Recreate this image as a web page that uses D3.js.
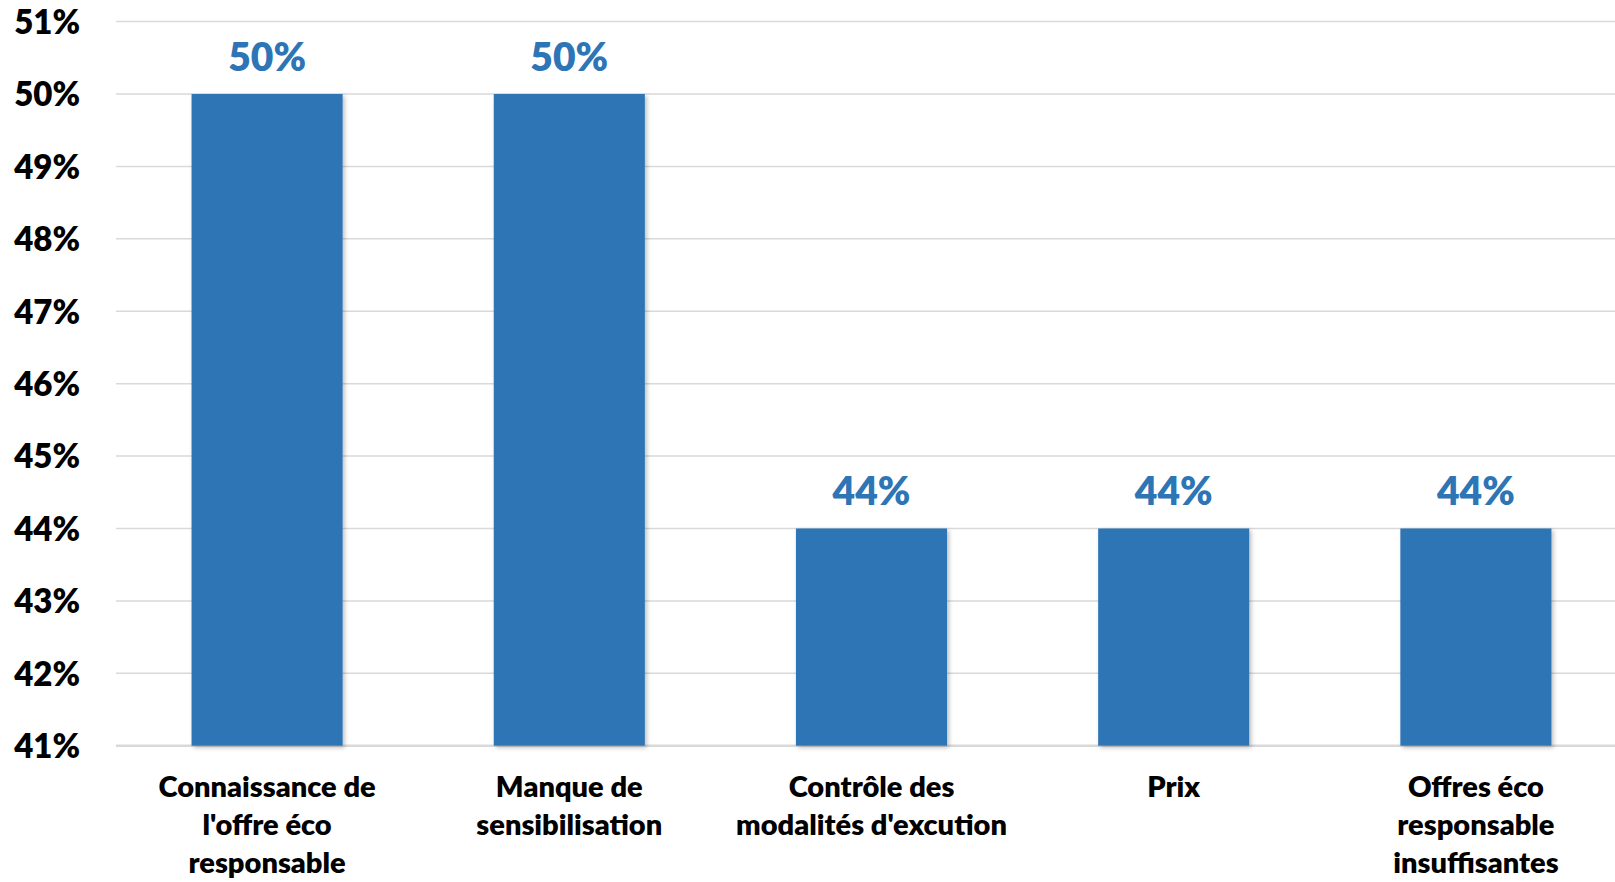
<!DOCTYPE html>
<html>
<head>
<meta charset="utf-8">
<script src="https://cdn.jsdelivr.net/npm/d3@7"></script>
<style>
  html, body { margin: 0; padding: 0; background: #fff; }
  svg { display: block; font-family: Lato, "Open Sans", sans-serif; font-weight: bold; }
</style>
</head>
<body>
<svg id="chart" width="1615" height="882"></svg>
<script>
// categories (line breaks as in the original)
const categories = [
    "Connaissance de\nl'offre éco\nresponsable",
    "Manque de\nsensibilisation",
    "Contrôle des\nmodalités d'excution",
    "Prix",
    "Offres éco\nresponsable\ninsuffisantes"
]
const values = [50, 50, 44, 44, 44]
const yTicks = [41, 42, 43, 44, 45, 46, 47, 48, 49, 50, 51]

const width = 1615,
    height = 882,
    plotLeft = 116,
    plotRight = 1627,
    plotTop = 21.6,
    plotBottom = 745.7

const blue = "#2e75b6"

const svg = d3.select("#chart")

const defs = svg.append("defs")
const shadow = defs.append("filter")
    .attr("id", "shadow")
    .attr("x", "-10%").attr("y", "-10%")
    .attr("width", "130%").attr("height", "130%")
shadow.append("feDropShadow")
    .attr("dx", 2).attr("dy", 2)
    .attr("stdDeviation", 2)
    .attr("flood-color", "#000")
    .attr("flood-opacity", 0.25)

const x = d3.scaleBand()
    .domain(categories)
    .range([plotLeft, plotRight])
    .paddingInner(0.5)
    .paddingOuter(0.25)

const y = d3.scaleLinear()
    .domain([41, 51])
    .range([plotBottom, plotTop])

// gridlines
svg.append("g")
    .selectAll("line")
    .data(yTicks)
    .join("line")
    .attr("x1", plotLeft)
    .attr("x2", width)
    .attr("y1", d => y(d))
    .attr("y2", d => y(d))
    .attr("stroke", "#d9d9d9")
    .attr("stroke-width", d => d === 41 ? 2.5 : 1.5)

// y axis labels
const yAxis = d3.axisLeft(y)
    .tickValues(yTicks)
    .tickFormat(d => d + "%")
    .tickSize(0)
    .tickPadding(0)

const gy = svg.append("g")
    .attr("transform", "translate(80,0)")
    .call(yAxis)
gy.select(".domain").remove()
gy.selectAll("text")
    .attr("fill", "#000")
    .attr("font-size", 33)
    .attr("font-family", "Lato, sans-serif")
    .attr("font-weight", 800)
    .attr("dy", "0.36em")

// bars
svg.append("g")
    .selectAll("rect")
    .data(values)
    .join("rect")
    .attr("x", (d, i) => x(categories[i]))
    .attr("width", x.bandwidth())
    .attr("y", d => y(d))
    .attr("height", d => y(41) - y(d))
    .attr("fill", blue)
    .attr("filter", "url(#shadow)")

// value labels
svg.append("g")
    .selectAll("text")
    .data(values)
    .join("text")
    .attr("x", (d, i) => x(categories[i]) + x.bandwidth() / 2)
    .attr("y", d => y(d) - 23)
    .attr("text-anchor", "middle")
    .attr("fill", blue)
    .attr("font-size", 39)
    .attr("font-weight", 800)
    .text(d => d + "%")

// category labels
const cat = svg.append("g")
    .selectAll("text")
    .data(categories)
    .join("text")
    .attr("x", d => x(d) + x.bandwidth() / 2)
    .attr("y", 797)
    .attr("text-anchor", "middle")
    .attr("fill", "#000")
    .attr("font-size", 29)
    .attr("font-weight", 800)

cat.selectAll("tspan")
    .data(d => d.split("\n"))
    .join("tspan")
    .attr("x", function () { return this.parentNode.getAttribute("x") })
    .attr("dy", (d, i) => i === 0 ? 0 : 38)
    .text(d => d)
</script>
</body>
</html>
